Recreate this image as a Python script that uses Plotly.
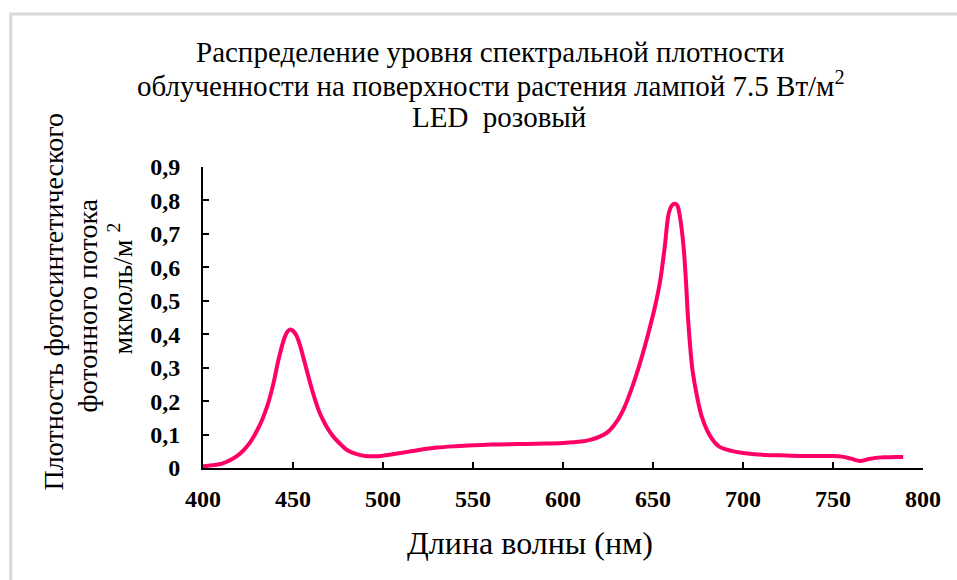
import plotly.graph_objects as go

wavelength = [400, 405, 411, 416, 421, 426, 430, 433, 436, 439, 442, 445, 447, 448.5, 450, 452, 454, 456, 458, 460, 462.5, 465, 468, 470, 473, 477, 480, 485, 490, 496,
              500, 510, 520, 530, 540, 550, 560, 570, 580, 590, 600, 610, 615, 620, 625, 630, 634, 638, 642, 645, 648, 651, 654, 656.5, 658.7, 660.5, 662,
              663.5, 665, 667, 668.3, 669.3, 670.7, 672, 674.6, 677, 680, 683, 687, 693, 700, 713, 720, 732, 740, 750, 755, 760, 765, 770, 775, 780, 785, 789]
density = [0.005, 0.008, 0.014, 0.026, 0.045, 0.075, 0.112, 0.146, 0.19, 0.25, 0.325, 0.385, 0.408, 0.414, 0.41, 0.395, 0.365, 0.325, 0.285, 0.245, 0.2, 0.163, 0.13, 0.112, 0.09, 0.068, 0.054, 0.042, 0.036, 0.035,
           0.037, 0.045, 0.054, 0.061, 0.065, 0.068, 0.070, 0.071, 0.072, 0.073, 0.075, 0.079, 0.084, 0.093, 0.108, 0.14, 0.18, 0.235, 0.30, 0.355, 0.415, 0.48, 0.56, 0.66, 0.76, 0.785, 0.79,
           0.785, 0.75, 0.66, 0.56, 0.46, 0.36, 0.29, 0.21, 0.155, 0.113, 0.085, 0.063, 0.052, 0.045, 0.039, 0.038, 0.036, 0.036, 0.036, 0.034, 0.028, 0.021, 0.027, 0.031, 0.032, 0.033, 0.033]

x_ticks = [400, 450, 500, 550, 600, 650, 700, 750, 800]
y_ticks = [0, 0.1, 0.2, 0.3, 0.4, 0.5, 0.6, 0.7, 0.8, 0.9]
y_tick_labels = ["0", "0,1", "0,2", "0,3", "0,4", "0,5", "0,6", "0,7", "0,8", "0,9"]

title_lines = ["Распределение уровня спектральной плотности",
               "облученности на поверхности растения лампой 7.5 Вт/м<sup>2</sup>",
               "LED  розовый"]
x_title = "Длина волны (нм)"
y_title_lines = ["Плотность фотосинтетического", "фотонного потока", "мкмоль/м <sup>2</sup>"]

SERIF = "Liberation Serif, Times New Roman, serif"

fig = go.Figure()
fig.add_trace(go.Scatter(
    x=wavelength, y=density, mode="lines",
    line=dict(color="#FF0066", width=4, shape="spline", smoothing=0.9),
    showlegend=False, hoverinfo="skip",
))

fig.update_layout(
    width=957, height=580,
    margin=dict(l=203, r=34, t=167, b=112),
    paper_bgcolor="white", plot_bgcolor="white",
    font=dict(family=SERIF, color="black"),
    xaxis=dict(
        range=[400, 800], tickvals=x_ticks, ticks="inside", ticklen=6, tickwidth=1.5,
        tickcolor="black", showline=True, linecolor="black", linewidth=1.8,
        showgrid=False, zeroline=False,
        tickfont=dict(family=SERIF, size=24, color="black", weight="bold"),
        ticklabelstandoff=8,
    ),
    yaxis=dict(
        range=[0, 0.9], tickvals=y_ticks, ticktext=y_tick_labels, ticks="inside", ticklen=6,
        tickwidth=1.5, tickcolor="black", showline=True, linecolor="black", linewidth=1.8,
        showgrid=False, zeroline=False,
        tickfont=dict(family=SERIF, size=24, color="black", weight="bold"),
        ticklabelstandoff=16,
    ),
)

# main title, one annotation per line
for txt, px, py in zip(title_lines, [0.399, 0.4, 0.411], [1.3807, 1.2745, 1.1650]):
    fig.add_annotation(text=txt, xref="paper", yref="paper", x=px, y=py,
                       xanchor="center", yanchor="middle", showarrow=False,
                       font=dict(family=SERIF, size=29, color="black"))
# x axis title
fig.add_annotation(text=x_title, xref="paper", yref="paper", x=0.4546, y=-0.249,
                   xanchor="center", yanchor="middle", showarrow=False,
                   font=dict(family=SERIF, size=32, color="black"))
# y axis title lines
for txt, px, py in zip(y_title_lines, [-0.208, -0.1607, -0.115], [0.551, 0.541, 0.597]):
    fig.add_annotation(text=txt, xref="paper", yref="paper", x=px, y=py,
                       xanchor="center", yanchor="middle", textangle=-90, showarrow=False,
                       font=dict(family=SERIF, size=28, color="black"))

# outer chart border
fig.add_shape(type="rect", xref="paper", yref="paper", x0=-0.267, x1=1.06, y0=-0.40, y1=1.508,
              line=dict(color="#D9D9D9", width=3), layer="below")

fig.write_html("out.html")
